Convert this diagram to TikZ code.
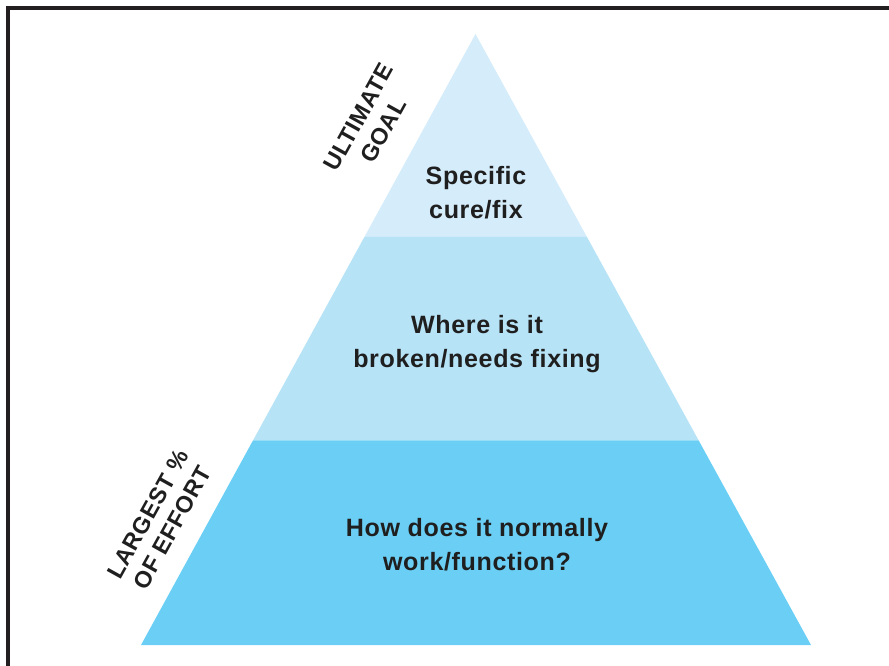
\documentclass[tikz,border=0pt]{standalone}
\usepackage{fontspec}
\setmainfont{Liberation Sans}
\newfontfamily\spacedfont[LetterSpace=2.5]{Liberation Sans}
\usetikzlibrary{calc}
\definecolor{bandtop}{HTML}{D5ECFA}
\definecolor{bandmid}{HTML}{B7E3F7}
\definecolor{bandbot}{HTML}{6BCFF5}
\definecolor{framecol}{HTML}{231F20}
\tikzset{
  bandtext/.style={align=center, font=\spacedfont\bfseries\fontsize{18.8}{25.5}\selectfont, text=black!88, inner sep=0pt},
  sidetext/.style={align=center, font=\spacedfont\bfseries\fontsize{17.5}{21}\selectfont, text=black!88, inner sep=0pt, rotate=61},
  framestyle/.style={draw=framecol, line width=3pt, line cap=butt}
}
\begin{document}
\begin{tikzpicture}[x=0.75pt, y=-0.75pt]
\useasboundingbox (0,0) rectangle (889,666);
% frame (left and top edges)
\coordinate (fbl) at (8,666);
\coordinate (ftl) at (8,8);
\coordinate (ftr) at (889,8);
\draw[framestyle] (fbl) -- (ftl) -- (ftr);
% pyramid
\coordinate (apex) at (475.5,34);
\coordinate (bl) at (141,645);
\coordinate (br) at (811,645);
\coordinate (l1) at ($(apex)!0.332!(bl)$);
\coordinate (r1) at ($(apex)!0.332!(br)$);
\coordinate (l2) at ($(apex)!0.665!(bl)$);
\coordinate (r2) at ($(apex)!0.665!(br)$);
\fill[bandtop] (apex) -- (r1) -- (l1) -- cycle;
\fill[bandmid] (l1) -- (r1) -- (r2) -- (l2) -- cycle;
\fill[bandbot] (l2) -- (r2) -- (br) -- (bl) -- cycle;
% band texts
\node[bandtext] (t1) at (476,193) {Specific\\cure/fix};
\node[bandtext] (t2) at (477,344) {Where is it\\broken/needs fixing};
\node[bandtext] (t3) at (477,545) {How does it normally\\work/function?};
% side labels
\node[sidetext] (s1) at (371,124) {ULTIMATE\\GOAL};
\node[sidetext] (s2) at (160,521) {LARGEST \%\\OF EFFORT};
\end{tikzpicture}
\end{document}
